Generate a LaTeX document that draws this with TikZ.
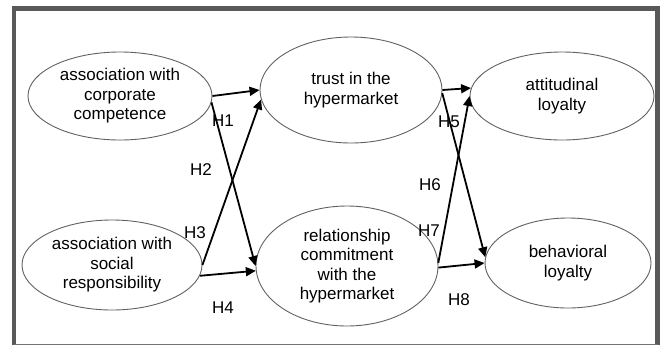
\documentclass[tikz,border=0pt]{standalone}
\usepackage{fontspec}
\setmainfont{Liberation Sans}
\usetikzlibrary{arrows.meta,shapes.geometric,positioning}

\begin{document}
\begin{tikzpicture}[x=1pt,y=-1pt,
		construct/.style={ellipse,draw=black!62,line width=0.9pt,inner sep=0pt,align=center,font=\fontsize{17}{19.5}\selectfont},
		hyp/.style={font=\fontsize{17}{19.5}\selectfont,inner sep=0pt},
		link/.style={-{Triangle[length=10pt,width=9pt]},line width=1.8pt}]
		\useasboundingbox (0,0) rectangle (664,346);
		% frame
		\draw[black!65,line width=4.5pt] (14,344.5) -- (14,8.5) -- (657.5,8.5) -- (657.5,344.5);
		\draw[black!55,line width=1.5pt] (14,344.5) -- (657.5,344.5);
		
		% left
		\node[construct,minimum width=184pt,minimum height=88pt] (cc) at (120,96) {association with\\corporate\\competence};
		\node[construct,minimum width=180pt,minimum height=90pt] (ss) at (112,265) {association with\\social\\responsibility};
		
		% middle
		\node[construct,minimum width=182pt,minimum height=106pt] (trust) at (351,90) {trust in the\\hypermarket};
		\node[construct,minimum width=182pt,minimum height=120pt] (rel) at (347,266) {relationship\\commitment\\with the\\hypermarket};
		
		% right
		\node[construct,minimum width=184pt,minimum height=88pt] (att) at (562,96) {attitudinal\\loyalty};
		\node[construct,minimum width=166pt,minimum height=90pt] (beh) at (568,263) {behavioral\\loyalty};
		
		% hypotheses
		\node[hyp] (h1) at (223,121) {H1};
		\node[hyp] (h2) at (201,170) {H2};
		\node[hyp] (h3) at (195,233) {H3};
		\node[hyp] (h4) at (223,308) {H4};
		\node[hyp] (h5) at (449,122) {H5};
		\node[hyp] (h6) at (430,185) {H6};
		\node[hyp] (h7) at (429,231) {H7};
		\node[hyp] (h8) at (459,300) {H8};
		
		% left paths
		\draw[link] (cc.east) -- (trust.west);
		\draw[link] (cc.356) -- (rel.west);
		\draw[link] (ss.east) -- (trust.186);
		\draw[link] (ss.353) -- (rel.183);
		
		% right paths
		\draw[link] (trust.east) -- (att.175);
		\draw[link] (trust.358) -- (beh.176);
		\draw[link] (rel.2) -- (att.west);
		\draw[link] (rel.359) -- (beh.west);
\end{tikzpicture}
\end{document}
